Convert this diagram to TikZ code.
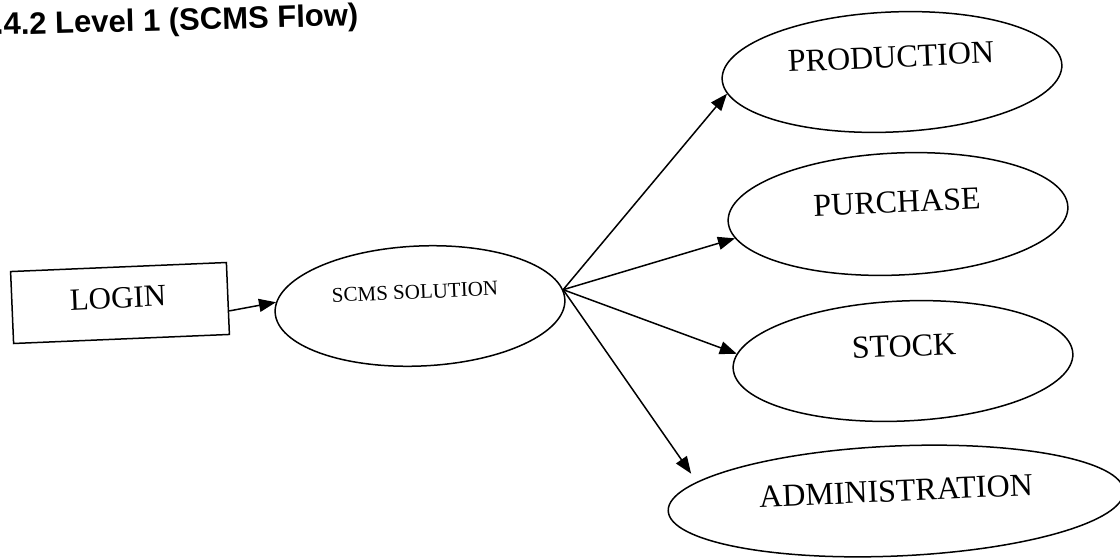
\documentclass[tikz,border=0pt]{standalone}
\usepackage{fontspec}
\setmainfont{Liberation Serif}
\newfontfamily\headfont{Liberation Sans}
\usetikzlibrary{shapes.geometric,arrows.meta,calc}

\tikzset{
  proc/.style={ellipse,draw,line width=1.5pt,inner sep=0pt,minimum width=340pt,minimum height=120pt,rotate=2.5},
  entry/.style={rectangle,draw,line width=1.5pt,inner sep=0pt,minimum width=216pt,minimum height=72pt,rotate=2.4},
  lbl/.style={inner sep=0pt,rotate=2.5,font=\fontsize{32}{38}\selectfont},
  flow/.style={line width=1.5pt,-{Triangle[length=17pt,width=13pt]}}
}

\begin{document}
\begin{tikzpicture}[x=1pt,y=-1pt]
  \useasboundingbox (0,0) rectangle (1120,560);

  % heading
  \node[anchor=base west,inner sep=0pt,rotate=1.5,font=\headfont\bfseries\fontsize{31}{36}\selectfont]
    (head) at (-5,35) {.4.2 Level 1 (SCMS Flow)};

  % login box and central process
  \node[entry] (login) at (120,303) {};
  \node[lbl,font=\fontsize{31}{36}\selectfont] (logintxt) at (118,298) {LOGIN};

  \node[proc,minimum width=290pt,minimum height=120pt] (scms) at (420,306) {};
  \node[lbl,font=\fontsize{21}{25}\selectfont] (scmstxt) at (415,292) {SCMS SOLUTION};

  % modules
  \node[proc] (prod) at (892,72) {};
  \node[lbl] (prodtxt) at (891,57) {PRODUCTION};

  \node[proc,minimum height=122pt] (pur) at (898,214) {};
  \node[lbl] (purtxt) at (897,202) {PURCHASE};

  \node[proc] (stock) at (903,361) {};
  \node[lbl] (stocktxt) at (904,346) {STOCK};

  \node[proc,minimum width=456pt,minimum height=110pt] (admin) at (896,501) {};
  \node[lbl] (admintxt) at (896,491) {ADMINISTRATION};

  % connectors
  \coordinate (hub) at (scms.4);
  \draw[flow] ($(login.south east)!0.33!(login.north east)$) -- (scms.176);
  \draw[flow] (hub) -- (prod.185);
  \draw[flow] (hub) -- (pur.186);
  \draw[flow] (hub) -- (stock.175);
  \draw[flow,shorten >=10pt] (hub) -- (admin.172.7);
\end{tikzpicture}
\end{document}
